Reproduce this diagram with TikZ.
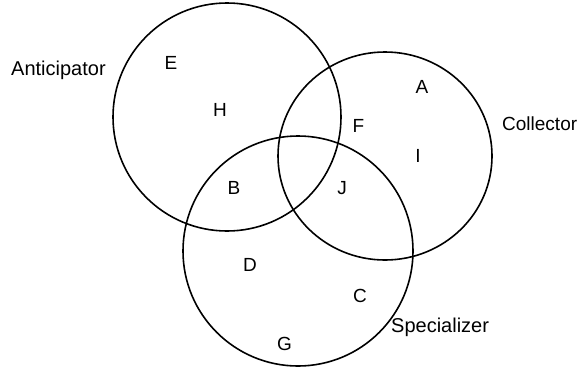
\documentclass[tikz,border=0pt]{standalone}
\usepackage{fontspec}
\setmainfont{Liberation Sans}
\usetikzlibrary{shapes.geometric}

\begin{document}
\begin{tikzpicture}
			[x=1pt, y=-1pt,
			 set/.style={draw, line width=1.6pt, inner sep=0pt},
			 setname/.style={anchor=base west, inner sep=0pt, font=\fontsize{20}{20}\selectfont},
			 item/.style={anchor=base, inner sep=0pt, font=\fontsize{19}{19}\selectfont}]
			
			\useasboundingbox (0,0) rectangle (580,367);
			
			\node[set, circle, minimum size=228pt] (anticipator) at (227,117) {};
			\node[set, ellipse, minimum width=214pt, minimum height=208pt] (collector) at (385,156) {};
			\node[set, circle, minimum size=230pt] (specializer) at (298,251) {};
			
			\node[setname] (anticipatorname) at (11,75) {Anticipator};
			\node[setname, font=\fontsize{19}{19}\selectfont] (collectorname) at (502,130) {Collector};
			\node[setname] (specializername) at (391,332) {Specializer};
			
			\node[item] (E) at (171,69.5) {E};
			\node[item] (H) at (220,116) {H};
			\node[item] (B) at (234,194) {B};
			\node[item] (F) at (358.5,132) {F};
			\node[item] (A) at (422,93) {A};
			\node[item] (I) at (418,162) {I};
			\node[item] (J) at (342,194) {J};
			\node[item] (D) at (250,271) {D};
			\node[item] (C) at (360,302.5) {C};
			\node[item] (G) at (284.5,350) {G};
		\end{tikzpicture}
\end{document}
